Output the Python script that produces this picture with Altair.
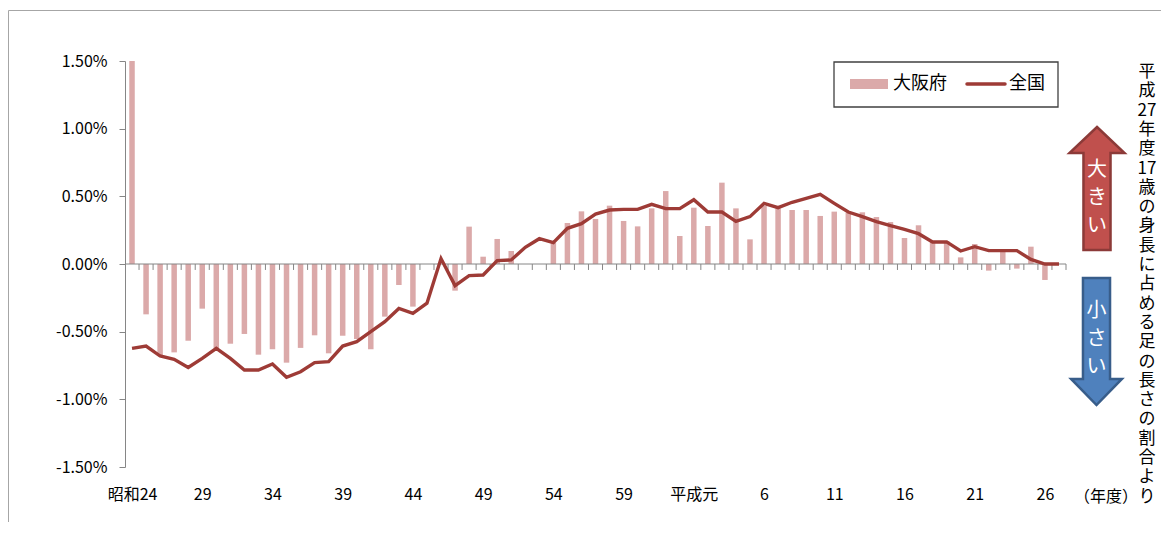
import altair as alt
import pandas as pd

FONT = "Noto Sans CJK JP"

# year labels (昭和24 .. 昭和63, 平成元 .. 平成27)
years = ["昭和24"] + [str(y) for y in range(25, 64)] + ["平成元"] + [str(y) for y in range(2, 28)]
tick_labels = ["昭和24", "29", "34", "39", "44", "49", "54", "59", "平成元", "6", "11", "16", "21", "26"]

# 大阪府 (percent)
osaka = [1.50, -0.372, -0.672, -0.653, -0.567, -0.33, -0.623, -0.589, -0.517, -0.67,
         -0.63, -0.729, -0.62, -0.527, -0.66, -0.53, -0.554, -0.63, -0.389, -0.155,
         -0.315, 0.0, 0.0, -0.197, 0.276, 0.054, 0.185, 0.096, 0.0, 0.0,
         0.158, 0.303, 0.389, 0.333, 0.431, 0.318, 0.278, 0.411, 0.539, 0.207,
         0.416, 0.281, 0.601, 0.411, 0.182, 0.429, 0.411, 0.399, 0.399, 0.355,
         0.387, 0.379, 0.382, 0.347, 0.31, 0.192, 0.286, 0.165, 0.17, 0.049,
         0.148, -0.049, 0.099, -0.034, 0.128, -0.118, 0.0]

# 全国 (percent)
national = [-0.623, -0.606, -0.68, -0.704, -0.764, -0.697, -0.623, -0.697, -0.783, -0.783,
            -0.739, -0.837, -0.796, -0.729, -0.722, -0.606, -0.574, -0.5, -0.426, -0.328,
            -0.365, -0.29, 0.04, -0.16, -0.086, -0.081, 0.025, 0.03, 0.123, 0.187,
            0.158, 0.264, 0.298, 0.369, 0.399, 0.404, 0.404, 0.441, 0.409, 0.409,
            0.475, 0.384, 0.384, 0.315, 0.35, 0.448, 0.416, 0.456, 0.485, 0.515,
            0.448, 0.384, 0.35, 0.313, 0.283, 0.256, 0.224, 0.163, 0.163, 0.096,
            0.128, 0.099, 0.099, 0.099, 0.034, 0.0, 0.0]

side_text = ["平", "成", "27", "年", "度", "17", "歳", "の", "身", "長", "に", "占", "め", "る",
             "足", "の", "長", "さ", "の", "割", "合", "よ", "り"]

n = len(years)
df = pd.DataFrame({
    "idx": list(range(n)),
    "year": years,
    "osaka": [v / 100 for v in osaka],
    "national": [v / 100 for v in national],
})
ticks_df = pd.DataFrame({"t": [k + 0.5 for k in range(n)]})
one = pd.DataFrame({"a": [0]})

BAR = "#DBA9A9"
LINE = "#9E3B36"
GRAY = "#868686"

xscale = alt.Scale(domain=[-0.5, n - 0.5], nice=False, zero=False, padding=0)
yscale = alt.Scale(domain=[-0.015, 0.015], nice=False, padding=0)

label_expr = "[" + ",".join("'%s'" % t for t in tick_labels) + "][round(datum.value/5)]"

x_axis = alt.Axis(values=list(range(0, n, 5)), labelExpr=label_expr, domain=False,
                  ticks=False, grid=False, title=None, labelPadding=19,
                  labelFontSize=16, labelFont=FONT, labelColor="#000000",
                  labelOverlap=False, labelFlush=False)
y_axis = alt.Axis(values=[-0.015, -0.01, -0.005, 0, 0.005, 0.01, 0.015],
                  labelExpr="replace(format(datum.value, '.2%'), '−', '-')",
                  grid=False, title=None, tickSize=6, labelPadding=12,
                  domainColor=GRAY, tickColor=GRAY, labelFontSize=16,
                  labelFont=FONT, labelColor="#000000")

bars = alt.Chart(df).mark_bar(size=5.5, color=BAR).encode(
    x=alt.X("idx:Q", scale=xscale, axis=x_axis, title=None),
    y=alt.Y("osaka:Q", scale=yscale, axis=y_axis, title=None),
)

zero = alt.Chart(one).mark_rule(color=GRAY, strokeWidth=1).encode(
    x=alt.datum(-0.5), x2=alt.datum(n - 0.5), y=alt.datum(0))

ticks = alt.Chart(ticks_df).mark_rule(color=GRAY, strokeWidth=1).encode(
    x=alt.X("t:Q", title=None), y=alt.datum(0), y2=alt.datum(-0.00044))

line = alt.Chart(df).mark_line(color=LINE, strokeWidth=3.4, strokeJoin="miter").encode(
    x=alt.X("idx:Q", title=None), y=alt.Y("national:Q", title=None))

# frame
frame = alt.Chart(one).mark_rect(fillOpacity=0, stroke="#A6A6A6", strokeWidth=1).encode(
    x=alt.value(-116.5), x2=alt.value(1400), y=alt.value(-50.5), y2=alt.value(800))

# legend
leg_box = alt.Chart(one).mark_rect(fill="white", stroke="#404040", strokeWidth=1.3).encode(
    x=alt.value(709), x2=alt.value(933), y=alt.value(1), y2=alt.value(46))
leg_bar = alt.Chart(one).mark_rect(fill=BAR).encode(
    x=alt.value(725), x2=alt.value(763), y=alt.value(18), y2=alt.value(28))
leg_bar_t = alt.Chart(one).mark_text(text="大阪府", fontSize=18, font=FONT, align="left",
                                     baseline="middle", color="#000000").encode(
    x=alt.value(768), y=alt.value(23))
leg_line = alt.Chart(one).mark_rule(color=LINE, strokeWidth=3.5, strokeCap="round").encode(
    x=alt.value(842), x2=alt.value(880), y=alt.value(23))
leg_line_t = alt.Chart(one).mark_text(text="全国", fontSize=18, font=FONT, align="left",
                                      baseline="middle", color="#000000").encode(
    x=alt.value(884), y=alt.value(23))

# arrows
up_path = "M0,-1L0.447,-0.577L0.22,-0.577L0.22,1L-0.22,1L-0.22,-0.577L-0.447,-0.577Z"
down_path = "M-0.213,-1L0.213,-1L0.213,0.59L0.40,0.59L0,1L-0.40,0.59L-0.213,0.59Z"
up_arrow = alt.Chart(one).mark_point(shape=up_path, size=123 ** 2, filled=True, fill="#C0504D",
                                     stroke="#8C3A38", strokeWidth=2.5, opacity=1).encode(
    x=alt.value(972), y=alt.value(127.5))
down_arrow = alt.Chart(one).mark_point(shape=down_path, size=127 ** 2, filled=True, fill="#4F81BD",
                                       stroke="#385D8A", strokeWidth=2.5, opacity=1).encode(
    x=alt.value(971.5), y=alt.value(280.5))
up_text = alt.Chart(one).mark_text(text=["大", "き", "い"], lineHeight=28, fontSize=20, font=FONT,
                                   color="white", align="center", baseline="middle").encode(
    x=alt.value(972), y=alt.value(109))
down_text = alt.Chart(one).mark_text(text=["小", "さ", "い"], lineHeight=28, fontSize=20, font=FONT,
                                     color="white", align="center", baseline="middle").encode(
    x=alt.value(971.5), y=alt.value(250))

vert = alt.Chart(one).mark_text(text=side_text, lineHeight=19.3, fontSize=17, font=FONT,
                                color="#000000", align="center", baseline="middle").encode(
    x=alt.value(1022), y=alt.value(11))
nendo = alt.Chart(one).mark_text(text="（年度）", fontSize=16, font=FONT, color="#000000",
                                 align="center", baseline="middle").encode(
    x=alt.value(981), y=alt.value(436))

chart = alt.layer(
    frame, bars, zero, ticks, line, leg_box, leg_bar, leg_bar_t, leg_line, leg_line_t,
    up_arrow, down_arrow, up_text, down_text, vert, nendo
).properties(
    width=941, height=406,
    padding={"left": 117, "top": 53, "right": 95, "bottom": 55},
    autosize="none",
    background="white",
).configure_view(stroke="transparent", strokeWidth=0)

chart.save("out.html", embed_options={"renderer": "svg", "actions": False})
